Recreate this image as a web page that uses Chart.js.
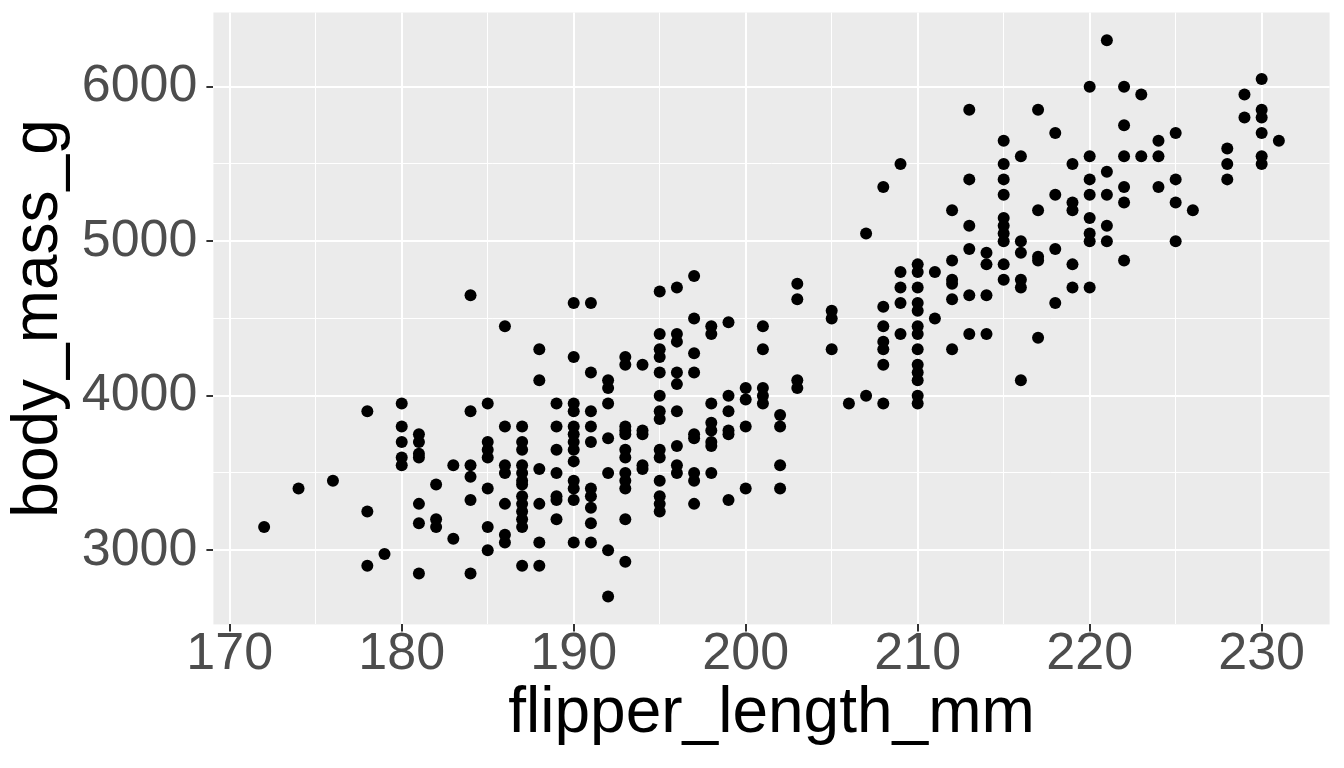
<!DOCTYPE html>
<html>
<head>
<meta charset="utf-8">
<script src="https://cdn.jsdelivr.net/npm/chart.js@4.4.0/dist/chart.umd.min.js"></script>
<style>
  html, body { margin: 0; padding: 0; background: #fff; }
  canvas { display: block; }
</style>
</head>
<body>
<canvas id="chart" width="1344" height="768"></canvas>
<script>
// flipper length (mm) and the body masses (g) seen at each length
const flipperLength = [
  172, 174, 176, 178, 179, 180, 181, 182, 183, 184, 185, 186, 187, 188, 189,
  190, 191, 192, 193, 194, 195, 196, 197, 198, 199, 200, 201, 202, 203, 205,
  206, 207, 208, 209, 210, 211, 212, 213, 214, 215, 216, 217, 218, 219, 220,
  221, 222, 223, 224, 225, 226, 228, 229, 230, 231
];
const bodyMass = [
  [3150], [3400], [3450], [3900, 3250, 2900], [2975],
  [3950, 3800, 3700, 3600, 3550],
  [3750, 3700, 3625, 3600, 3300, 3175, 2850],
  [3425, 3200, 3150],
  [3550, 3075],
  [4650, 3900, 3550, 3475, 3325, 2850],
  [3950, 3700, 3650, 3600, 3400, 3150, 3000],
  [4450, 3800, 3550, 3500, 3300, 3100, 3050],
  [3800, 3700, 3650, 3550, 3500, 3450, 3425, 3350, 3300, 3250, 3200, 3150, 2900],
  [4300, 4100, 3525, 3300, 3050, 2900],
  [3950, 3800, 3650, 3500, 3350, 3325, 3200],
  [4600, 4250, 3950, 3900, 3800, 3750, 3700, 3650, 3575, 3450, 3400, 3325, 3050],
  [4600, 4150, 3900, 3800, 3700, 3400, 3350, 3275, 3175, 3050],
  [4100, 4050, 3950, 3725, 3500, 3000, 2700],
  [4250, 4200, 3800, 3775, 3750, 3650, 3600, 3500, 3450, 3400, 3200, 2925],
  [4200, 3775, 3750, 3550, 3525],
  [4675, 4400, 4300, 4250, 4150, 4000, 3900, 3850, 3650, 3600, 3450, 3350, 3300, 3250],
  [4700, 4400, 4350, 4150, 4075, 3900, 3675, 3550, 3500],
  [4775, 4500, 4275, 4150, 3750, 3725, 3500, 3450, 3300],
  [4450, 4400, 3950, 3825, 3775, 3700, 3675, 3500],
  [4475, 4000, 3900, 3775, 3750, 3325],
  [4050, 3975, 3800, 3400],
  [4450, 4300, 4050, 4000, 3950],
  [3875, 3800, 3550, 3400],
  [4725, 4625, 4100, 4050],
  [4550, 4500, 4300],
  [3950],
  [5050, 4000],
  [5350, 4575, 4450, 4350, 4300, 4200, 3950],
  [5500, 4800, 4700, 4600, 4400],
  [4850, 4800, 4700, 4600, 4550, 4450, 4400, 4300, 4200, 4150, 4100, 4000, 3950],
  [4800, 4500],
  [5200, 4875, 4750, 4725, 4625, 4300],
  [5850, 5400, 5100, 4950, 4650, 4400],
  [4925, 4850, 4650, 4400],
  [5650, 5500, 5400, 5300, 5150, 5100, 5050, 5000, 4850, 4750],
  [5550, 5000, 4925, 4750, 4700, 4100],
  [5850, 5200, 4900, 4875, 4375],
  [5700, 5300, 4950, 4600],
  [5500, 5250, 5200, 4850, 4700],
  [6000, 5550, 5400, 5300, 5150, 5050, 5000, 4700],
  [6300, 5450, 5300, 5100, 5000],
  [6000, 5750, 5550, 5350, 5250, 4875],
  [5950, 5550],
  [5650, 5550, 5350],
  [5700, 5400, 5250, 5000],
  [5200],
  [5600, 5500, 5400],
  [5950, 5800],
  [6050, 5850, 5800, 5700, 5550, 5500],
  [5650]
];

const xTicks = [170, 180, 190, 200, 210, 220, 230];
const yTicks = [3000, 4000, 5000, 6000];
const xLimits = [169.05, 233.95];
const yLimits = [2520, 6480];

const points = [];
flipperLength.forEach((f, i) => {
  bodyMass[i].forEach(m => points.push({ x: f, y: m }));
});

// major ticks plus the minor lines half way between them
function gridValues(major, lim) {
  const step = major[1] - major[0];
  const vals = [major[0] - step / 2];
  major.forEach(v => vals.push(v, v + step / 2));
  return vals.filter(v => v > lim[0] && v < lim[1]);
}

const FONT = "'Liberation Sans', Arial, Helvetica, sans-serif";

const panelBg = {
  id: 'panelBg',
  beforeDraw(chart) {
    const { ctx, chartArea: a } = chart;
    ctx.save();
    ctx.fillStyle = '#EBEBEB';
    ctx.fillRect(a.left, a.top, a.right - a.left, a.bottom - a.top);
    ctx.restore();
  }
};

function axis(major, lim, title, isX) {
  const isMajor = ctx => ctx.tick && major.includes(ctx.tick.value);
  return {
    type: 'linear',
    min: lim[0],
    max: lim[1],
    afterBuildTicks: s => {
      s.ticks = gridValues(major, lim).map(v => ({ value: v }));
    },
    afterFit: s => {
      if (isX) s.height = 143.6; else s.width = 213.4;
      s.paddingTop = 0;
      s.paddingBottom = 0;
      s.paddingLeft = 0;
      s.paddingRight = 0;
    },
    border: { display: false },
    grid: {
      color: '#FFFFFF',
      lineWidth: ctx => (isMajor(ctx) ? 2 : 1),
      tickLength: 7,
      tickWidth: 2,
      tickColor: ctx => (isMajor(ctx) ? '#333333' : 'rgba(0,0,0,0)')
    },
    ticks: {
      autoSkip: false,
      maxRotation: 0,
      color: '#4D4D4D',
      padding: isX ? 0 : 9,
      font: { family: FONT, size: 52, lineHeight: 0.9 },
      callback: v => (major.includes(v) ? String(v) : '')
    },
    title: {
      display: true,
      text: title,
      color: '#000000',
      font: { family: FONT, size: 64, lineHeight: 1.2 },
      padding: isX ? { top: 0, bottom: 15 } : { top: 1, bottom: 0 }
    }
  };
}

new Chart(document.getElementById('chart'), {
  type: 'scatter',
  data: {
    datasets: [{
      data: points,
      pointRadius: 6,
      pointHoverRadius: 6,
      pointBackgroundColor: '#000000',
      pointBorderWidth: 0
    }]
  },
  options: {
    responsive: false,
    animation: false,
    events: [],
    layout: { padding: { top: 12.5, right: 14.4, bottom: 0, left: 0 } },
    plugins: {
      legend: { display: false },
      tooltip: { enabled: false }
    },
    scales: {
      x: axis(xTicks, xLimits, 'flipper_length_mm', true),
      y: axis(yTicks, yLimits, 'body_mass_g', false)
    }
  },
  plugins: [panelBg]
});
</script>
</body>
</html>
